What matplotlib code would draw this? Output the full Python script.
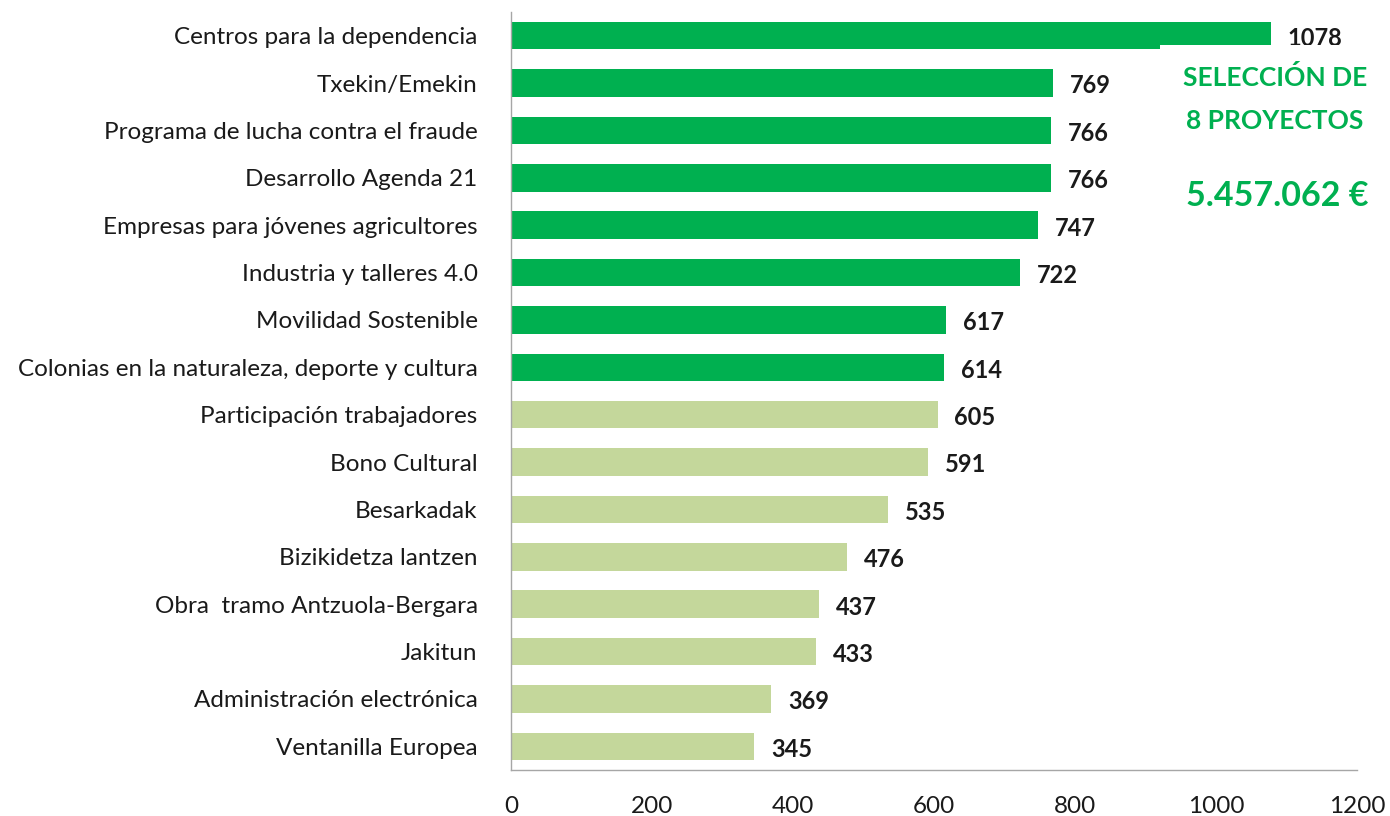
import matplotlib.pyplot as plt
from matplotlib.patches import Rectangle

plt.rcParams['font.family'] = ['Lato', 'DejaVu Sans']

proyectos = [
    "Centros para la dependencia",
    "Txekin/Emekin",
    "Programa de lucha contra el fraude",
    "Desarrollo Agenda 21",
    "Empresas para jóvenes agricultores",
    "Industria y talleres 4.0",
    "Movilidad Sostenible",
    "Colonias en la naturaleza, deporte y cultura",
    "Participación trabajadores",
    "Bono Cultural",
    "Besarkadak",
    "Bizikidetza lantzen",
    "Obra  tramo Antzuola-Bergara",
    "Jakitun",
    "Administración electrónica",
    "Ventanilla Europea",
]
votos = [1078, 769, 766, 766, 747, 722, 617, 614, 605, 591, 535, 476, 437, 433, 369, 345]
n_seleccion = 8
xticks = [0, 200, 400, 600, 800, 1000, 1200]

verde = '#00B050'
verde_claro = '#C4D79B'

fig = plt.figure(figsize=(13.9, 8.16), dpi=100)
ax = fig.add_axes([0.3676, 0.0564, 0.6087, 0.9289])

colores = [verde if i < n_seleccion else verde_claro for i in range(len(votos))]
pos = list(range(len(votos)))
ax.barh(pos, votos, height=0.58, color=colores, zorder=2)

for p, v in zip(pos, votos):
    ax.text(v + 24, p + 0.06, str(v), va='center', ha='left',
            fontsize=17, fontweight='bold', color='#1a1a1a')

ax.set_ylim(len(votos) - 0.5, -0.5)
ax.set_xlim(0, 1200)
ax.set_yticks(pos)
ax.set_yticklabels(proyectos, fontsize=17.5, color='#1a1a1a')
ax.set_xticks(xticks)
ax.set_xticklabels([str(t) for t in xticks], fontsize=17.5, color='#1a1a1a')
ax.tick_params(axis='y', length=0, pad=24)
ax.tick_params(axis='x', length=0, pad=19)

for s in ['top', 'right']:
    ax.spines[s].set_visible(False)
for s in ['left', 'bottom']:
    ax.spines[s].set_color('#a6a6a6')
    ax.spines[s].set_linewidth(1.0)

# caja del texto (tapa un poco la primera barra)
fig.patches.append(Rectangle((1160 / 1390, 1 - 215 / 816), 230 / 1390, 170 / 816,
                             transform=fig.transFigure, facecolor='white',
                             edgecolor='none', zorder=3))
fig.text(1275 / 1390, 1 - 77 / 816, "SELECCIÓN DE", ha='center', va='center',
         fontsize=19, fontweight='bold', color=verde, zorder=4)
fig.text(1275 / 1390, 1 - 121 / 816, "8 PROYECTOS", ha='center', va='center',
         fontsize=19, fontweight='bold', color=verde, zorder=4)
fig.text(1277 / 1390, 1 - 196 / 816, "5.457.062 €", ha='center', va='center',
         fontsize=24.5, fontweight='bold', color=verde, zorder=4)

fig.savefig('out.png', dpi=100)
